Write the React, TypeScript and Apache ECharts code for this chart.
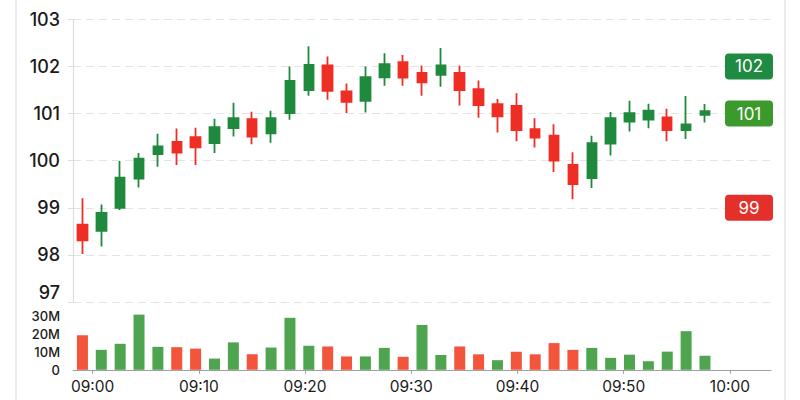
import React, { useEffect, useRef } from "react";
import * as echarts from "echarts";

// Candles (OHLC)
const candleOpen = [98.64, 98.51, 99.0, 99.62, 100.14, 100.4, 100.5, 100.37, 100.69, 100.88, 100.58, 101.01, 101.5, 102.02, 101.47, 101.27, 101.77, 102.09, 101.86, 101.82, 101.86, 101.52, 101.2, 101.16, 100.67, 100.53, 99.91, 99.63, 100.36, 100.83, 100.87, 100.92, 100.65, 100.97];
const candleClose = [98.31, 98.89, 99.64, 100.04, 100.3, 100.17, 100.28, 100.71, 100.9, 100.51, 100.9, 101.69, 102.03, 101.48, 101.25, 101.77, 102.05, 101.76, 101.66, 102.02, 101.5, 101.18, 100.94, 100.65, 100.49, 100.0, 99.5, 100.37, 100.9, 101.01, 101.06, 100.65, 100.77, 101.05];
const candleLow = [98.02, 98.18, 98.95, 99.43, 99.87, 99.91, 99.91, 100.16, 100.51, 100.35, 100.38, 100.87, 101.38, 101.29, 101.01, 101.02, 101.59, 101.59, 101.38, 101.57, 101.17, 100.91, 100.6, 100.41, 100.28, 99.76, 99.18, 99.42, 100.11, 100.62, 100.69, 100.41, 100.46, 100.81];
const candleHigh = [99.2, 99.07, 99.99, 100.16, 100.57, 100.68, 100.7, 100.89, 101.23, 101.04, 101.06, 102.0, 102.43, 102.21, 101.64, 102.0, 102.28, 102.24, 102.02, 102.39, 102.02, 101.7, 101.31, 101.43, 100.9, 100.77, 100.18, 100.53, 101.03, 101.27, 101.21, 101.1, 101.37, 101.2];

// Volume in millions and its colour side (true = green)
const volumeM = [19.4, 11.2, 14.6, 31.0, 12.9, 12.7, 11.9, 6.3, 15.4, 8.8, 12.5, 29.2, 13.5, 13.1, 7.5, 7.5, 12.3, 7.3, 25.2, 8.3, 13.1, 8.7, 5.4, 10.2, 8.7, 15.0, 11.2, 12.3, 6.7, 8.5, 4.8, 10.2, 21.7, 7.9];
const volumeUp = [false, true, true, true, true, false, false, true, true, false, true, true, true, false, false, true, true, false, true, true, false, false, true, false, false, false, false, true, true, true, true, true, true, true];

// Axis ticks
const priceMin = 97;
const priceMax = 103;
const timeTickMinutes = [0, 10, 20, 30, 40, 50, 60];
const timeTickLabels = ["09:00", "09:10", "09:20", "09:30", "09:40", "09:50", "10:00"];
const timeAxisMin = -1.85;
const timeAxisMax = 63.87;
const volumeTickLabels = ["0", "10M", "20M", "30M"];
const emptySlotsAtEnd = 3;

// Price badges
const badgeLevels = [102, 101, 99];
const badgeColors = ["#1f8a42", "#3c9a2c", "#e3302a"];

const UP = "#1f8a3d";
const DOWN = "#ee2e24";
const VOL_UP = "#4fa54f";
const VOL_DOWN = "#f2553b";
const FONT = "Inter";

export default function App() {
  const ref = useRef<HTMLDivElement>(null);

  useEffect(() => {
    if (!ref.current) return;
    const chart = echarts.init(ref.current, undefined, { renderer: "svg" });

    const slots = candleOpen.length + emptySlotsAtEnd;
    const categories = Array.from({ length: slots }, (_, i) => `#${i + 1}`);
    const kData = candleOpen.map((o, i) => [o, candleClose[i], candleLow[i], candleHigh[i]]);
    const volData = volumeM.map((v, i) => ({
      value: v * 1e6,
      itemStyle: { color: volumeUp[i] ? VOL_UP : VOL_DOWN },
    }));

    const option: any = {
      animation: false,
      backgroundColor: "#ffffff",
      textStyle: { fontFamily: FONT },
      graphic: [
        { type: "line", shape: { x1: 16, y1: 0, x2: 16, y2: 400 }, style: { stroke: "#e6e6e6", lineWidth: 1.5 } },
        { type: "line", shape: { x1: 785, y1: 0, x2: 785, y2: 400 }, style: { stroke: "#e6e6e6", lineWidth: 1.5 } },
      ],
      grid: [
        { left: 73, right: 29, top: 19.3, height: 282.7 },
        { left: 73, right: 29, top: 314.6, height: 55.2 },
      ],
      xAxis: [
        {
          type: "category",
          gridIndex: 0,
          data: categories,
          boundaryGap: true,
          axisLine: { show: false },
          axisTick: { show: false },
          axisLabel: { show: false },
          splitLine: { show: false },
        },
        {
          type: "category",
          gridIndex: 1,
          data: categories,
          boundaryGap: true,
          axisLine: { show: false },
          axisTick: { show: false },
          axisLabel: { show: false },
          splitLine: { show: false },
        },
        {
          type: "value",
          gridIndex: 1,
          position: "bottom",
          min: timeAxisMin,
          max: timeAxisMax,
          axisLine: { show: true, lineStyle: { color: "#a0a0a0", width: 1.2 } },
          axisTick: { show: true, customValues: timeTickMinutes, length: 4, lineStyle: { color: "#a0a0a0" } },
          axisLabel: {
            show: true,
            customValues: timeTickMinutes,
            formatter: (v: number) => timeTickLabels[timeTickMinutes.indexOf(Math.round(v))] ?? "",
            color: "#1a1a1a",
            fontSize: 15.5,
            fontFamily: FONT,
            margin: 9,
          },
          splitLine: { show: false },
        },
      ],
      yAxis: [
        {
          type: "value",
          gridIndex: 0,
          min: priceMin,
          max: priceMax,
          interval: 1,
          axisLine: { show: true, lineStyle: { color: "#dcdcdc", width: 1.2 } },
          axisTick: { show: true, length: 5, lineStyle: { color: "#dcdcdc" } },
          axisLabel: {
            color: "#1a1a1a",
            fontSize: 18,
            fontFamily: FONT,
            fontWeight: 500,
            margin: 13,
            formatter: (v: number) => (v === priceMin ? `{low|${v}}` : `${v}`),
            rich: {
              low: { fontSize: 18, fontFamily: FONT, fontWeight: 500, color: "#1a1a1a", padding: [0, 0, 20, 0] },
            },
          },
          splitLine: { show: true, lineStyle: { color: "#e4e4e4", type: [8, 5], width: 1 } },
        },
        {
          type: "value",
          gridIndex: 1,
          min: 0,
          max: 31e6,
          interval: 10e6,
          axisLine: { show: false },
          axisTick: { show: false },
          axisLabel: {
            color: "#1a1a1a",
            fontSize: 13,
            fontFamily: FONT,
            fontWeight: 500,
            margin: 13,
            showMaxLabel: false,
            formatter: (v: number) => volumeTickLabels[Math.round(v / 10e6)] ?? "",
          },
          splitLine: { show: false },
        },
      ],
      series: [
        {
          type: "candlestick",
          xAxisIndex: 0,
          yAxisIndex: 0,
          data: kData,
          barWidth: 10,
          itemStyle: {
            color: UP,
            color0: DOWN,
            borderColor: UP,
            borderColor0: DOWN,
            borderWidth: 1.8,
          },
          markLine: {
            silent: true,
            symbol: ["none", "none"],
            lineStyle: { color: "rgba(0,0,0,0)", width: 0, type: "solid" },
            label: { show: true },
            data: badgeLevels.map((lvl, i) => ({
              yAxis: lvl,
              label: {
                show: true,
                position: "insideEnd",
                distance: -2,
                formatter: `{v|${lvl}}`,
                backgroundColor: badgeColors[i],
                borderRadius: 4,
                padding: [4, 8],
                rich: {
                  v: {
                    width: 32,
                    height: 18,
                    align: "center",
                    verticalAlign: "middle",
                    color: "#ffffff",
                    fontSize: 17,
                    fontFamily: FONT,
                    lineHeight: 18,
                  },
                },
              },
            })),
          },
        },
        {
          type: "bar",
          xAxisIndex: 1,
          yAxisIndex: 1,
          data: volData,
          barWidth: 11,
        },
      ],
    };

    chart.setOption(option);
    return () => chart.dispose();
  }, []);

  return (
    <div
      ref={ref}
      style={{ position: "absolute", left: 0, top: 0, width: 800, height: 400, background: "#fff" }}
    />
  );
}
